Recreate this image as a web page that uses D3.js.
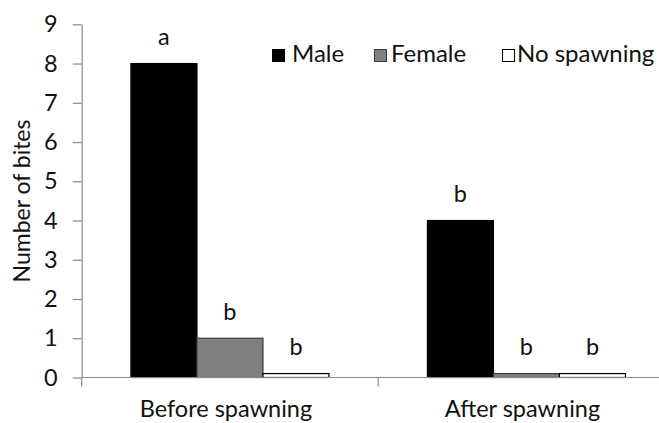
<!DOCTYPE html>
<html>
<head>
<meta charset="utf-8">
<script src="https://cdn.jsdelivr.net/npm/d3@7"></script>
<style>
  html, body { margin: 0; padding: 0; background: #fff; }
  svg { display: block; }
  text { font-family: Lato, "Open Sans", sans-serif; fill: #111; }
</style>
</head>
<body>
<svg id="chart" width="659" height="423"></svg>
<script>
// Bites received per period, by spawning partner
const periods = ["Before spawning", "After spawning"];
const seriesNames = ["Male", "Female", "No spawning"];
const maleBites = [8, 4];
const femaleBites = [1, 0.1];
const noSpawningBites = [0.1, 0.1];
const maleLetters = ["a", "b"];
const femaleLetters = ["b", "b"];
const noSpawningLetters = ["b", "b"];
const yTicks = [0, 1, 2, 3, 4, 5, 6, 7, 8, 9];

const seriesValues = [maleBites, femaleBites, noSpawningBites];
const seriesLetters = [maleLetters, femaleLetters, noSpawningLetters];
const fills = ["#000000", "#808080", "#ffffff"];
const strokes = ["#000000", "#3a3a3a", "#000000"];
const axisColor = "#8a8a8a";

const svg = d3.select("#chart");
const plotLeft = 81.7, plotBottom = 377.5, plotTop = 24.3;
const step = 296.5;

const y = d3.scaleLinear().domain([0, 9]).range([plotBottom, plotTop]);
const x0 = d3.scaleBand().domain(periods)
  .range([plotLeft, plotLeft + step * periods.length])
  .paddingInner(0.332).paddingOuter(0.166);
const x1 = d3.scaleBand().domain(seriesNames).range([0, x0.bandwidth()]);

// Rows: one per period and series
const rows = [];
periods.forEach((p, i) => {
  seriesNames.forEach((s, j) => {
    rows.push({ period: p, series: s, j, value: seriesValues[j][i], letter: seriesLetters[j][i] });
  });
});

// Y axis
const yAxis = d3.axisLeft(y).tickValues(yTicks).tickSize(9).tickPadding(15).tickSizeOuter(0);
const gy = svg.append("g").attr("transform", `translate(${plotLeft},0)`).call(yAxis);
gy.select(".domain").attr("stroke", axisColor).attr("stroke-width", 1.2);
gy.selectAll(".tick line").attr("stroke", axisColor).attr("stroke-width", 1.2);
gy.selectAll(".tick text").attr("font-size", 23.5).attr("font-family", "Lato").attr("fill", "#111");
// y axis extends slightly below zero
svg.append("line").attr("x1", plotLeft).attr("x2", plotLeft).attr("y1", plotBottom).attr("y2", plotBottom + 9)
  .attr("stroke", axisColor).attr("stroke-width", 1.2);

// Bars
svg.append("g").selectAll("rect").data(rows).join("rect")
  .attr("x", d => x0(d.period) + x1(d.series))
  .attr("y", d => y(d.value))
  .attr("width", x1.bandwidth())
  .attr("height", d => plotBottom - y(d.value))
  .attr("fill", d => fills[d.j])
  .attr("stroke", d => strokes[d.j])
  .attr("stroke-width", 1.2);

// X axis baseline and category separators
svg.append("line").attr("x1", plotLeft).attr("x2", 659).attr("y1", plotBottom).attr("y2", plotBottom)
  .attr("stroke", axisColor).attr("stroke-width", 1.2);
periods.forEach((p, i) => {
  if (i === 0) return;
  const xb = plotLeft + x0.step() * i;
  svg.append("line").attr("x1", xb).attr("x2", xb).attr("y1", plotBottom).attr("y2", plotBottom + 9)
    .attr("stroke", axisColor).attr("stroke-width", 1.2);
});

// Category labels
svg.append("g").selectAll("text").data(periods).join("text")
  .attr("x", d => x0(d) + x0.bandwidth() / 2 - 4)
  .attr("y", 417)
  .attr("text-anchor", "middle")
  .attr("font-size", 23.5)
  .text(d => d);

// Significance letters above bars
svg.append("g").selectAll("text").data(rows).join("text")
  .attr("x", d => x0(d.period) + x1(d.series) + x1.bandwidth() / 2)
  .attr("y", d => y(d.value) - 18.5)
  .attr("text-anchor", "middle")
  .attr("font-size", 23.5)
  .text(d => d.letter);

// Y axis title
svg.append("text")
  .attr("transform", "translate(30,201) rotate(-90)")
  .attr("text-anchor", "middle")
  .attr("font-size", 23)
  .text("Number of bites");

// Legend
const legendSwatchX = [272, 374, 502];
const legendTextX = [292, 391, 517];
const lg = svg.append("g");
seriesNames.forEach((s, j) => {
  lg.append("rect").attr("x", legendSwatchX[j] + 0.5).attr("y", 49.5).attr("width", 12).attr("height", 12)
    .attr("fill", fills[j]).attr("stroke", strokes[j]).attr("stroke-width", 1);
  lg.append("text").attr("x", legendTextX[j]).attr("y", 62).attr("font-size", 24).text(s);
});
</script>
</body>
</html>
